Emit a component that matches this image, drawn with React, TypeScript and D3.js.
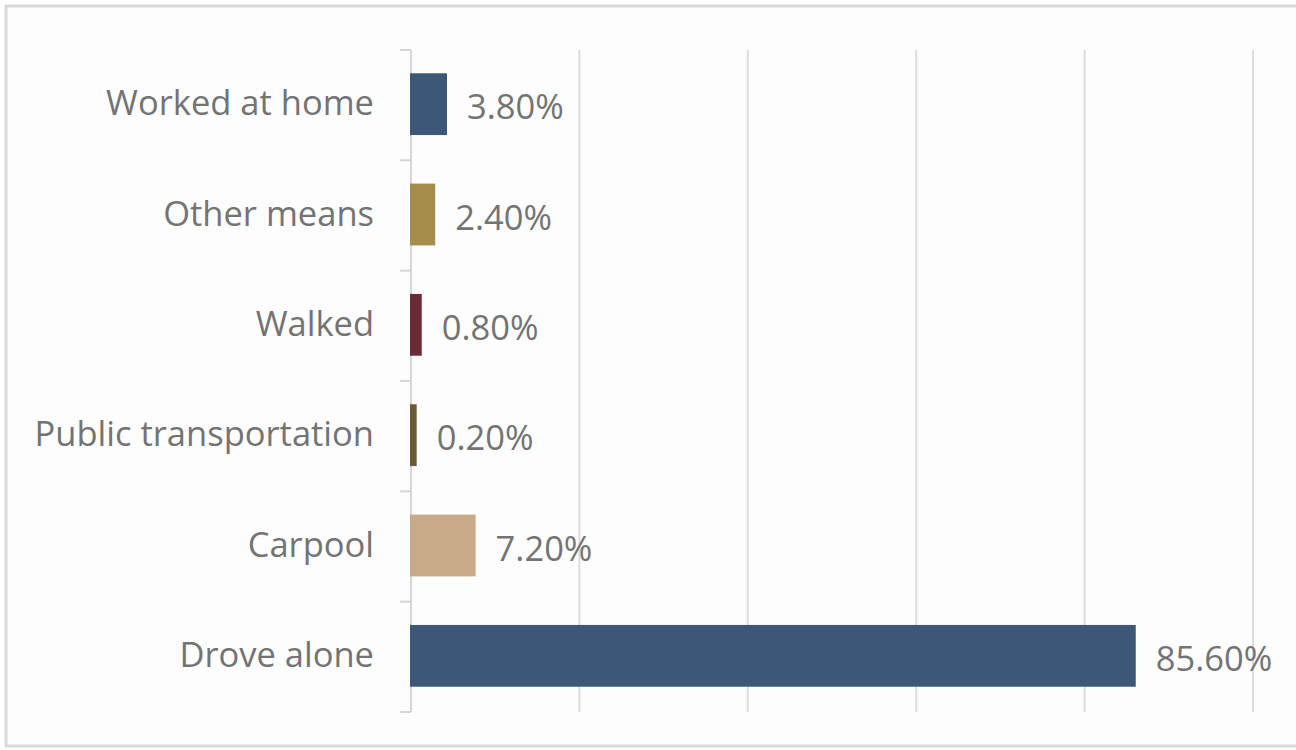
import React from "react";
import * as d3 from "d3";

const categories = ["Worked at home", "Other means", "Walked", "Public transportation", "Carpool", "Drove alone"];
const values = [3.8, 2.4, 0.8, 0.2, 7.2, 85.6];
const valueLabels = ["3.80%", "2.40%", "0.80%", "0.20%", "7.20%", "85.60%"];
const colors = ["#3d5876", "#a68c4b", "#6b2b36", "#6a5a36", "#c8aa89", "#3d5876"];
const xTicks = [0, 20, 40, 60, 80, 100];

const W = 1296;
const H = 750;
const margin = { left: 411, right: 43, top: 50, bottom: 38 };

export default function App() {
  const x = d3.scaleLinear().domain([0, 100]).range([margin.left, W - margin.right]);
  const y = d3.scaleBand<string>().domain(categories).range([margin.top, H - margin.bottom]).paddingInner(0.44).paddingOuter(0.22);
  const bandEdges = d3.range(categories.length + 1).map((i) => margin.top + i * ((H - margin.bottom - margin.top) / categories.length));
  const font = "'Open Sans', 'Noto Sans', sans-serif";
  const pad = 5;
  return (
    <svg width={W} height={H} style={{ position: "absolute", left: 0, top: 0, background: "#fff" }}>
      <rect x={6} y={6} width={W + 10} height={H - 10} fill="#fdfdfd" stroke="#d9d9d9" strokeWidth={3} />
      {xTicks.slice(1).map((t) => (
        <line key={t} x1={x(t)} x2={x(t)} y1={margin.top} y2={H - margin.bottom} stroke="#dcdcdc" strokeWidth={2} />
      ))}
      <line x1={x(0)} x2={x(0)} y1={margin.top} y2={H - margin.bottom} stroke="#d6d6d6" strokeWidth={2} />
      {bandEdges.map((e, i) => (
        <line key={i} x1={x(0) - 11} x2={x(0)} y1={e} y2={e} stroke="#d6d6d6" strokeWidth={2} />
      ))}
      {categories.map((c, i) => (
        <g key={c}>
          <rect x={x(0) - 1} y={(y(c) as number) - 1} width={x(values[i]) - x(0) + pad} height={y.bandwidth()} fill={colors[i]} />
          <text x={x(0) - 37} y={(y(c) as number) + y.bandwidth() / 2 - 2} dy="0.35em" textAnchor="end" fontFamily={font} fontSize={34.5} fill="#737373">
            {c}
          </text>
          <text x={x(values[i]) + pad + 19} y={(y(c) as number) + y.bandwidth() / 2 + 2} dy="0.35em" textAnchor="start" fontFamily={font} fontSize={34.5} fill="#737373">
            {valueLabels[i]}
          </text>
        </g>
      ))}
    </svg>
  );
}
